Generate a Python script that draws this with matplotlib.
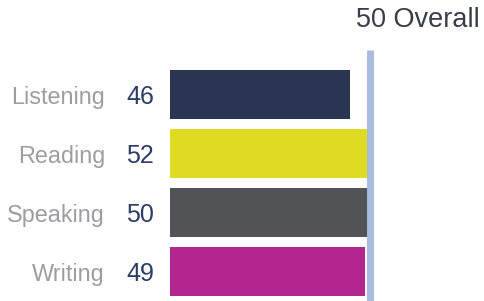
import matplotlib
matplotlib.use("Agg")
from matplotlib import pyplot as plt
import numpy as np

plt.rcParams['font.family'] = ['Liberation Sans', 'DejaVu Sans']

skills = ['Listening', 'Reading', 'Speaking', 'Writing']
scores = [46, 52, 50, 49]
overall = 50
bar_colors = ['#2a3552', '#dfda22', '#525356', '#b3268f']

SCALE_MIN = 10  # PTE scale starts at 10

fig = plt.figure(figsize=(4.84, 3.01), dpi=100)
ax = fig.add_axes([0, 0, 1, 1])
ax.set_xlim(-24, 72.8)
ax.set_ylim(3.5, -1.6)
ax.axis('off')

y = np.arange(len(skills))
# in the report the bars stop at the overall line
lengths = np.minimum(scores, overall) - SCALE_MIN
ax.barh(y, lengths, left=SCALE_MIN, height=0.82, color=bar_colors, zorder=1)

ax.plot([overall, overall], [-0.75, 3.5], color='#a8bbe0', lw=5,
        solid_capstyle='butt', zorder=2)
ax.text(72, -1.26, f'{overall} Overall', ha='right', va='center',
        fontsize=19.5, color='#3a3d48')

for yi, name, s in zip(y, skills, scores):
    ax.text(-3, yi + 0.05, name, ha='right', va='center', fontsize=16.8,
            color='#9c9ca2')
    ax.text(6.8, yi + 0.05, str(s), ha='right', va='center', fontsize=18,
            color='#2c3c66')

fig.savefig('out.png', dpi=100)
